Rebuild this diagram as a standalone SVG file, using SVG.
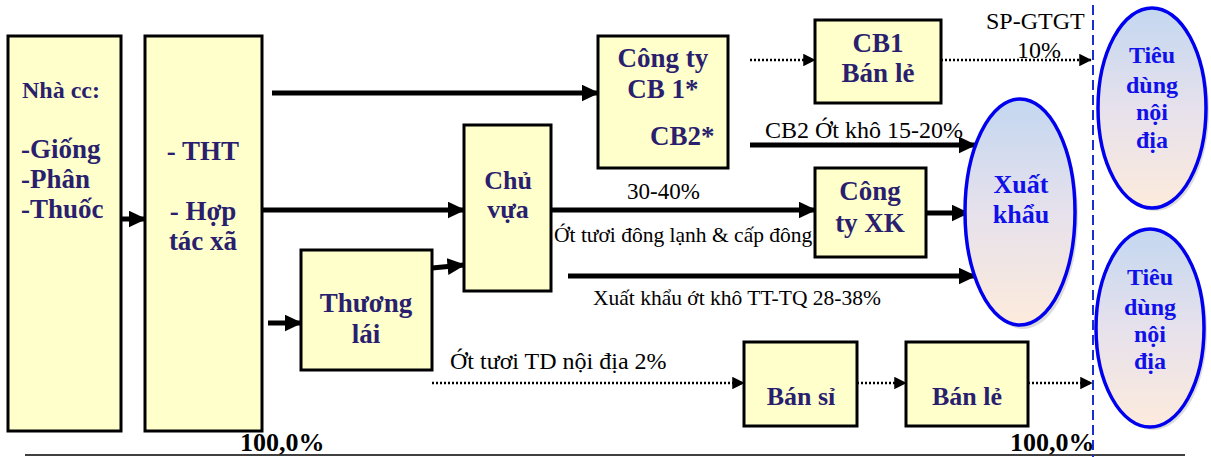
<svg xmlns="http://www.w3.org/2000/svg" width="1211" height="457" viewBox="0 0 1211 457">
  <style>
    .box { fill: #FFFFCC; stroke: #000; stroke-width: 3; }
    .bt { font-family: "Liberation Serif", "Times New Roman", serif; font-weight: bold; fill: #2A1F6E; font-size: 27px; }
    .et { font-family: "Liberation Serif", "Times New Roman", serif; font-weight: bold; fill: #1010E8; font-size: 24px; text-anchor: middle; }
    .lbl { font-family: "Liberation Serif", "Times New Roman", serif; fill: #000; font-size: 21.5px; }
    .pct { font-family: "Liberation Serif", "Times New Roman", serif; font-weight: bold; fill: #000; font-size: 26px; }
    .thick { stroke: #000; stroke-width: 5; fill: none; marker-end: url(#ah); }
    .dot { stroke: #000; stroke-width: 2.5; stroke-dasharray: 2 2; fill: none; marker-end: url(#ahs); }
    .ell { fill: url(#eg); stroke: #0000EE; stroke-width: 3.5; }
    .sh { fill: #9a9a9a; opacity: 0.35; }
  </style>
  <defs>
    <linearGradient id="eg" x1="0" y1="0" x2="0" y2="1">
      <stop offset="0" stop-color="#C3D7F0"/>
      <stop offset="0.5" stop-color="#E6E1EC"/>
      <stop offset="1" stop-color="#FDEBDC"/>
    </linearGradient>
    <marker id="ah" markerWidth="3.6" markerHeight="3.4" refX="3.3" refY="1.7" orient="auto" markerUnits="strokeWidth">
      <path d="M0,0 L3.6,1.7 L0,3.4 z" fill="#000"/>
    </marker>
    <marker id="ahs" markerWidth="5" markerHeight="5" refX="4.7" refY="2.5" orient="auto" markerUnits="strokeWidth">
      <path d="M0,0 L5,2.5 L0,5 z" fill="#000"/>
    </marker>
  </defs>

  <!-- bottom rule and consumer-side divider -->
  <line x1="25" y1="455" x2="1185" y2="455" stroke="#000" stroke-width="1.5"/>
  <line x1="1093" y1="5" x2="1093" y2="457" stroke="#1A2FD0" stroke-width="2" stroke-dasharray="10 5"/>

  <g id="connectors">
    <line class="thick" x1="121" y1="219" x2="145" y2="219"/>
    <line class="thick" x1="272" y1="93" x2="598" y2="93"/>
    <line class="thick" x1="262" y1="210" x2="464" y2="210"/>
    <line class="thick" x1="268" y1="323" x2="301" y2="323"/>
    <line class="thick" x1="432" y1="268" x2="464" y2="265"/>
    <line class="thick" x1="551" y1="210" x2="815" y2="210"/>
    <line class="thick" x1="926" y1="213" x2="968" y2="213"/>
    <line class="thick" x1="750" y1="145" x2="975" y2="145"/>
    <line class="thick" x1="568" y1="276" x2="975" y2="276"/>
    <line class="dot" x1="750" y1="60" x2="815" y2="60"/>
    <line class="dot" x1="941" y1="60" x2="1091" y2="60"/>
    <line class="dot" x1="432" y1="383" x2="744" y2="383"/>
    <line class="dot" x1="857" y1="383" x2="906" y2="383"/>
    <line class="dot" x1="1028" y1="383" x2="1092" y2="383"/>
    <text class="lbl" x="986" y="29" style="font-size:24px">SP-GTGT</text>
    <text class="lbl" x="1017" y="58" style="font-size:24px">10%</text>
    <text class="lbl" x="765" y="138" style="font-size:24px">CB2 Ớt khô 15-20%</text>
    <text class="lbl" x="627" y="199" style="font-size:23px">30-40%</text>
    <text class="lbl" x="554" y="242">Ớt tươi đông lạnh &amp; cấp đông</text>
    <text class="lbl" x="593" y="305">Xuất khẩu ớt khô TT-TQ 28-38%</text>
    <text class="lbl" x="450" y="369" style="font-size:24px">Ớt tươi TD nội địa 2%</text>
  </g>

  <g id="nha-cc">
    <rect class="box" x="8" y="36" width="113" height="395"/>
    <text class="bt" x="22" y="98" style="font-size:24px">Nhà cc:</text>
    <text class="bt" x="21" y="158">-Giống</text>
    <text class="bt" x="21" y="188">-Phân</text>
    <text class="bt" x="21" y="218">-Thuốc</text>
  </g>

  <g id="tht-htx">
    <rect class="box" x="145" y="36" width="117" height="395"/>
    <text class="bt" x="203" y="160" text-anchor="middle">- THT</text>
    <text class="bt" x="203" y="220" text-anchor="middle">- Hợp</text>
    <text class="bt" x="203" y="250" text-anchor="middle">tác xã</text>
  </g>

  <g id="thuong-lai">
    <rect class="box" x="301" y="250" width="131" height="120"/>
    <text class="bt" x="366" y="312" text-anchor="middle">Thương</text>
    <text class="bt" x="366" y="343" text-anchor="middle">lái</text>
  </g>

  <g id="chu-vua">
    <rect class="box" x="464" y="125" width="87" height="166"/>
    <text class="bt" x="508" y="189" text-anchor="middle" style="font-size:26px">Chủ</text>
    <text class="bt" x="508" y="218" text-anchor="middle" style="font-size:26px">vựa</text>
  </g>

  <g id="cong-ty-cb">
    <rect class="box" x="598" y="36" width="130" height="132"/>
    <text class="bt" x="663" y="67" text-anchor="middle">Công ty</text>
    <text class="bt" x="663" y="98" text-anchor="middle">CB 1*</text>
    <text class="bt" x="650" y="145">CB2*</text>
  </g>

  <g id="cb1-ban-le">
    <rect class="box" x="815" y="20" width="126" height="83"/>
    <text class="bt" x="878" y="52" text-anchor="middle">CB1</text>
    <text class="bt" x="878" y="82" text-anchor="middle">Bán lẻ</text>
  </g>

  <g id="cong-ty-xk">
    <rect class="box" x="815" y="168" width="111" height="89"/>
    <text class="bt" x="870" y="200" text-anchor="middle">Công</text>
    <text class="bt" x="870" y="232" text-anchor="middle">ty XK</text>
  </g>

  <g id="ban-si">
    <rect class="box" x="744" y="342" width="113" height="84"/>
    <text class="bt" x="801" y="405" text-anchor="middle" style="font-size:26px">Bán sỉ</text>
  </g>

  <g id="ban-le">
    <rect class="box" x="906" y="342" width="122" height="84"/>
    <text class="bt" x="967" y="405" text-anchor="middle" style="font-size:26px">Bán lẻ</text>
  </g>

  <g id="xuat-khau">
    <ellipse class="sh" cx="1023" cy="216" rx="55" ry="113"/>
    <ellipse class="ell" cx="1020" cy="212" rx="55" ry="113"/>
    <text class="et" x="1021" y="193" style="font-size:26px">Xuất</text>
    <text class="et" x="1021" y="223" style="font-size:26px">khẩu</text>
  </g>

  <g id="tieu-dung-1">
    <ellipse class="sh" cx="1155" cy="111" rx="54" ry="100"/>
    <ellipse class="ell" cx="1152" cy="108" rx="54" ry="100"/>
    <text class="et" x="1152" y="63">Tiêu</text>
    <text class="et" x="1152" y="93">dùng</text>
    <text class="et" x="1152" y="120">nội</text>
    <text class="et" x="1152" y="148">địa</text>
  </g>

  <g id="tieu-dung-2">
    <ellipse class="sh" cx="1153" cy="331" rx="54" ry="99"/>
    <ellipse class="ell" cx="1150" cy="328" rx="54" ry="99"/>
    <text class="et" x="1150" y="285">Tiêu</text>
    <text class="et" x="1150" y="315">dùng</text>
    <text class="et" x="1150" y="342">nội</text>
    <text class="et" x="1150" y="369">địa</text>
  </g>

  <text class="pct" x="240" y="451">100,0%</text>
  <text class="pct" x="1010" y="451">100,0%</text>
</svg>
